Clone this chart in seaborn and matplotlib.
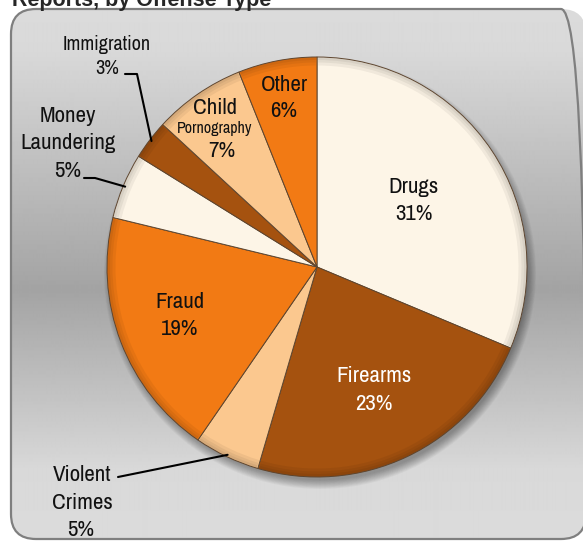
import numpy as np
import matplotlib
matplotlib.use("Agg")
import matplotlib.pyplot as plt
from matplotlib.patches import FancyBboxPatch, Circle, Wedge
import seaborn as sns

# Offense categories, clockwise from 12 o'clock
categories = ["Drugs", "Firearms", "Violent\nCrimes", "Fraud",
              "Money\nLaundering", "Immigration", "Child", "Other"]
shares = [31, 23, 5, 19, 5, 3, 7, 6]
title = "Reports, by Offense Type"

NARROW = ["Liberation Sans Narrow", "Arial Narrow", "Archivo Narrow",
          "PT Sans Narrow", "Roboto Condensed", "Open Sans Condensed",
          "DejaVu Sans"]

sns.set_theme(style="white")
plt.rcParams["font.family"] = NARROW

palette = sns.color_palette(["#fdf5e7", "#a5520f", "#fbc88f", "#f27a14"])
colors = [palette[i % 4] for i in range(len(shares))]

W, H = 583, 544
fig = plt.figure(figsize=(W / 100, H / 100), dpi=100)
ax = fig.add_axes([0, 0, 1, 1])
ax.set_axis_off()


def Y(y):
    return H - y


# panel background: rounded box with a vertical grey gradient
bx, by, bw, bh = 11, Y(539), 575, 530
box = FancyBboxPatch((bx, by), bw, bh,
                     boxstyle="round,pad=0,rounding_size=25",
                     facecolor="none", edgecolor="#7f7f7f", linewidth=1.6,
                     zorder=2)
ys = np.arange(H)
stops_y = [0, 50, 290, 470, H]
stops_v = [0.86, 0.85, 0.64, 0.85, 0.86]
grad = np.interp(ys, stops_y, stops_v)[:, None]
img = ax.imshow(np.repeat(grad, 2, axis=1), cmap="gray", vmin=0, vmax=1,
                extent=(0, W, 0, H), aspect="auto", origin="upper",
                interpolation="bilinear", zorder=0)
clip = FancyBboxPatch((bx, by), bw, bh,
                      boxstyle="round,pad=0,rounding_size=25",
                      facecolor="none", edgecolor="none",
                      transform=ax.transData)
ax.add_patch(clip)
img.set_clip_path(clip)
ax.add_patch(box)

cx, cy, R = 317, Y(267), 210

# soft drop shadow under the pie
for k in range(12):
    ax.add_patch(Circle((cx + 3, cy - 6), R + 6 - k * 0.8,
                        facecolor="black", edgecolor="none",
                        alpha=0.03, zorder=3))

wedges, _ = ax.pie(shares, colors=colors, startangle=90, counterclock=False,
                   center=(cx, cy), radius=R,
                   wedgeprops=dict(edgecolor="#5e4630", linewidth=0.7))
for w in wedges:
    w.set_zorder(4)

# bevel: slices darken slightly toward the rim
for w in wedges:
    for width in (2.5, 5, 8):
        ax.add_patch(Wedge((cx, cy), R - 0.5, w.theta1 + 0.3, w.theta2 - 0.3,
                           width=width, facecolor="black",
                           edgecolor="none", alpha=0.05, zorder=5))

ax.set_xlim(0, W)
ax.set_ylim(0, H)
ax.set_aspect("equal")

big = 16.5
txt = dict(ha="center", va="center", zorder=7)
ink = "#111111"

# labels inside slices
ax.text(414, Y(187), "Drugs", fontsize=big, color=ink, **txt)
ax.text(414, Y(214), f"{shares[0]}%", fontsize=big, color=ink, **txt)
ax.text(374, Y(376), "Firearms", fontsize=big, color="white", **txt)
ax.text(374, Y(404), f"{shares[1]}%", fontsize=big, color="white", **txt)
ax.text(180, Y(302), "Fraud", fontsize=big, color=ink, **txt)
ax.text(180, Y(329), f"{shares[3]}%", fontsize=big, color=ink, **txt)
ax.text(284, Y(85), "Other", fontsize=big, color=ink, **txt)
ax.text(284, Y(111), f"{shares[7]}%", fontsize=big, color=ink, **txt)
ax.text(215, Y(108), "Child", fontsize=big, color=ink, **txt)
ax.text(215, Y(129), "Pornography", fontsize=11.5, color=ink, **txt)
ax.text(222, Y(151), f"{shares[6]}%", fontsize=big, color=ink, **txt)

# outside labels
ax.text(107, Y(44), "Immigration", fontsize=14.5, color=ink, **txt)
ax.text(107, Y(69), f"{shares[5]}%", fontsize=14.5, color=ink, **txt)
ax.text(68, Y(116), "Money", fontsize=big, color=ink, **txt)
ax.text(68, Y(143), "Laundering", fontsize=big, color=ink, **txt)
ax.text(68, Y(171), f"{shares[4]}%", fontsize=big, color=ink, **txt)
ax.text(82, Y(475), "Violent", fontsize=big, color=ink, **txt)
ax.text(82, Y(503), "Crimes", fontsize=big, color=ink, **txt)
ax.text(81, Y(530), f"{shares[2]}%", fontsize=big, color=ink, **txt)


def edge_point(w, r):
    a = np.deg2rad((w.theta1 + w.theta2) / 2)
    return cx + r * np.cos(a), cy + r * np.sin(a)


# leader lines from outside labels to their slices
ex, ey = edge_point(wedges[5], R - 2)
ax.plot([125, 137, ex], [Y(74), Y(74), ey], color="black", lw=1.5, zorder=8)
ex, ey = edge_point(wedges[4], R - 2)
ax.plot([84, 95, ex], [Y(178), Y(178), ey], color="black", lw=1.5, zorder=8)
ex, ey = edge_point(wedges[2], R - 2)
ax.plot([118, ex], [Y(477), ey], color="black", lw=1.5, zorder=8)

fig.text(12 / W, 1 - 6 / H, title, fontsize=15.5, fontweight="bold",
         ha="left", va="baseline",
         family=["Liberation Sans", "Arimo", "DejaVu Sans"])

fig.savefig("out.png", dpi=100)
